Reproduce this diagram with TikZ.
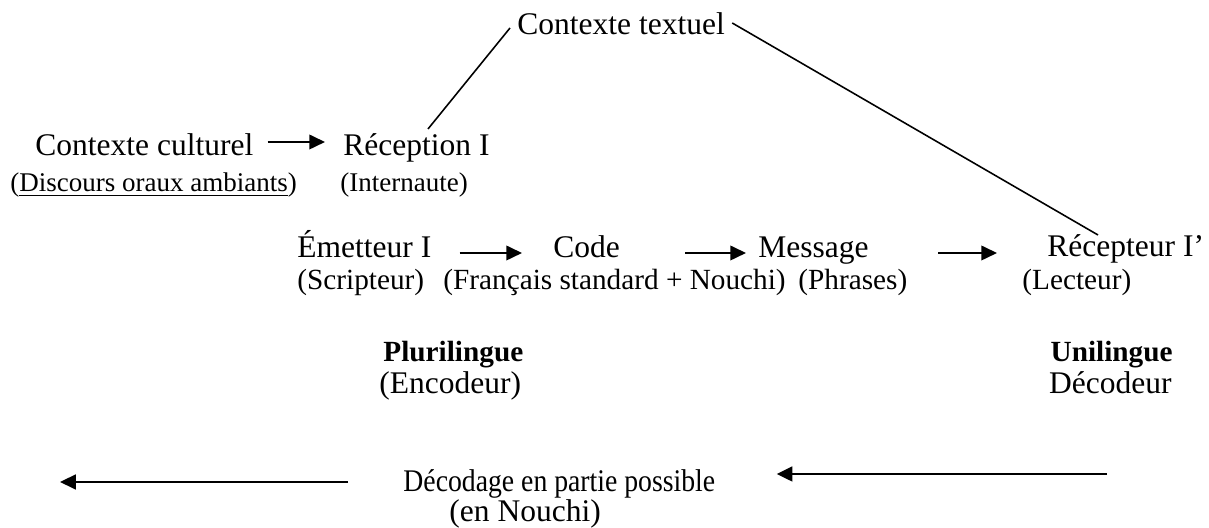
\documentclass[tikz,border=0pt]{standalone}
\usepackage{fontspec}
\setmainfont{Liberation Serif}
\usetikzlibrary{arrows.meta}
\tikzset{>={Triangle[length=7pt,width=6.5pt]},
big/.style={inner sep=0pt, font=\fontsize{14}{16}\selectfont},
small/.style={inner sep=0pt, font=\fontsize{12}{14}\selectfont},
mid/.style={inner sep=0pt, font=\fontsize{13}{15}\selectfont},
heavy/.style={inner sep=0pt, font=\fontsize{13}{15}\selectfont\bfseries},
flow/.style={->, line width=0.9pt},
back/.style={->, line width=1.2pt},
link/.style={line width=0.7pt}}

\begin{document}
\begin{tikzpicture}[x=0.4444pt, y=-0.4444pt]
\useasboundingbox (0,0) rectangle (1209,528);
\node[big, anchor=base west] (ctxt) at (517,35) {Contexte textuel};
\node[big, anchor=base west] (ccult) at (35,156) {Contexte culturel};
\node[big, anchor=base west] (recep) at (343,156) {Réception I};
\node[small, anchor=base west] (disc) at (10,192) {(\underline{Discours oraux ambiants})};
\node[small, anchor=base west] (inter) at (340,192) {(Internaute)};
\node[big, anchor=base west] (emet) at (297,258) {Émetteur I};
\node[big, anchor=base west] (code) at (553,258) {Code};
\node[big, anchor=base west] (msg) at (758,258) {Message};
\node[big, anchor=base west] (recep2) at (1047,257) {Récepteur I’};
\node[mid, anchor=base west] (scrip) at (297,290) {(Scripteur)};
\node[mid, anchor=base west] (franc) at (443,290) {(Français standard + Nouchi)};
\node[mid, anchor=base west] (phr) at (798,290) {(Phrases)};
\node[mid, anchor=base west] (lect) at (1022,290) {(Lecteur)};
\node[heavy, anchor=base west] (pluri) at (383,362) {Plurilingue};
\node[big, anchor=base west] (encod) at (379,394) {(Encodeur)};
\node[heavy, anchor=base east] (uni) at (1173,362) {Unilingue};
\node[big, anchor=base east] (decod) at (1172,394) {Décodeur};
\node[big, anchor=base west] (dec) at (403,492) {\scalebox{0.88}[1]{Décodage en partie possible}};
\node[big, anchor=base west] (nouchi) at (449,522) {(en Nouchi)};
\coordinate (lend) at (60,482);
\coordinate (rstart) at (1107,474);
\draw[link] ([shift={(-7,-7)}]ctxt.base west) -- ([shift={(85,-27)}]recep.base west);
\draw[link] ([shift={(7,-12)}]ctxt.base east) -- ([shift={(51,-22)}]recep2.base west);
\draw[flow] ([shift={(14,-14)}]ccult.base east) -- ([shift={(-18,-14)}]recep.base west);
\draw[flow] ([shift={(28,-5)}]emet.base east) -- ([shift={(-31,-5)}]code.base west);
\draw[flow] ([shift={(65,-5)}]code.base east) -- ([shift={(-12,-5)}]msg.base west);
\draw[flow] ([shift={(69,-5)}]msg.base east) -- ([shift={(-50,-4)}]recep2.base west);
\draw[back] ([shift={(-55,-10)}]dec.base west) -- (lend);
\draw[back] (rstart) -- ([shift={(61,-18)}]dec.base east);
\end{tikzpicture}
\end{document}
